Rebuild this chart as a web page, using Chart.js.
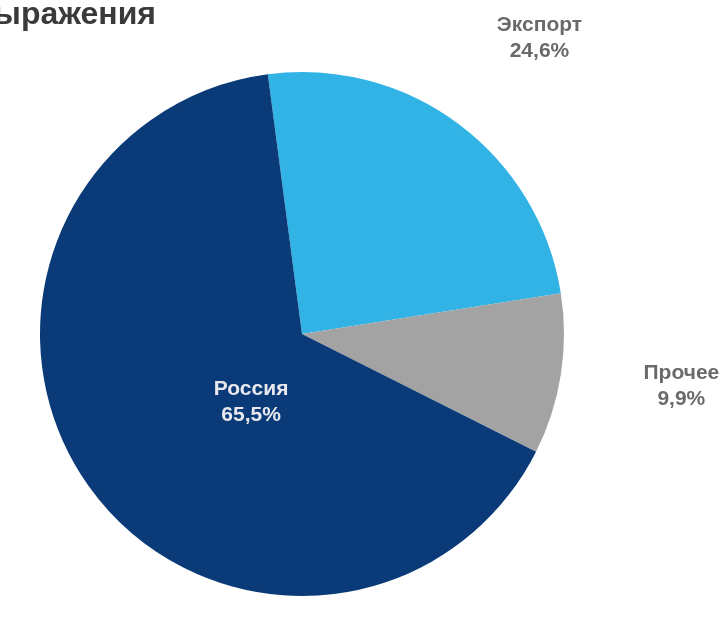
<!DOCTYPE html>
<html>
<head>
<meta charset="utf-8">
<script src="https://cdn.jsdelivr.net/npm/chart.js@4"></script>
<style>
  html, body { margin: 0; padding: 0; background: #fff; overflow: hidden; }
  #wrap { width: 727px; height: 619px; position: relative; }
</style>
</head>
<body>
<div id="wrap"><canvas id="chart"></canvas></div>
<script>
// chart data
const categories = ['Экспорт', 'Прочее', 'Россия'];
const shares = [24.6, 9.9, 65.5];
const sliceColors = ['#31b3e5', '#a3a3a3', '#0a3b78'];
const titleText = 'в натуральном выражения';

// title is cut at the left edge in the reference, so draw it right-aligned
const titlePlugin = {
    id: 'cutTitle',
    afterDraw(chart) {
        const ctx = chart.ctx;
        ctx.save();
        ctx.font = 'bold 32px "Liberation Sans", Arial, sans-serif';
        ctx.fillStyle = '#3a3a3a';
        ctx.textAlign = 'right';
        ctx.textBaseline = 'alphabetic';
        ctx.fillText(titleText, 156, 24);
        ctx.restore();
    }
};

// slice labels: small ones outside, the big one inside
const labelPlugin = {
    id: 'sliceLabels',
    afterDatasetsDraw(chart) {
        const ctx = chart.ctx;
        const meta = chart.getDatasetMeta(0);
        const nudge = [[10, 8], [4, -6], [26, 14]];
        ctx.save();
        ctx.font = 'bold 21px "Liberation Sans", Arial, sans-serif';
        ctx.textAlign = 'center';
        ctx.textBaseline = 'middle';
        meta.data.forEach((arc, i) => {
            const mid = (arc.startAngle + arc.endAngle) / 2;
            const inside = shares[i] > 50;
            const dist = inside ? arc.outerRadius * 0.36 : arc.outerRadius * 1.45;
            const x = arc.x + Math.cos(mid) * dist + nudge[i][0];
            const y = arc.y + Math.sin(mid) * dist + nudge[i][1];
            ctx.fillStyle = inside ? '#e8e8ee' : '#6a6a6a';
            const lines = [categories[i], shares[i].toFixed(1).replace('.', ',') + '%'];
            lines.forEach((t, k) => ctx.fillText(t, x, y + (k - 0.5) * 26));
        });
        ctx.restore();
    }
};

new Chart(document.getElementById('chart'), {
    type: 'pie',
    data: {
        labels: categories,
        datasets: [{
            data: shares,
            backgroundColor: sliceColors,
            borderWidth: 0
        }]
    },
    options: {
        responsive: true,
        maintainAspectRatio: false,
        animation: false,
        rotation: -7.5,
        layout: { padding: { left: 40, right: 163, top: 72, bottom: 23 } },
        plugins: {
            legend: { display: false },
            tooltip: { enabled: false }
        }
    },
    plugins: [titlePlugin, labelPlugin]
});
</script>
</body>
</html>
